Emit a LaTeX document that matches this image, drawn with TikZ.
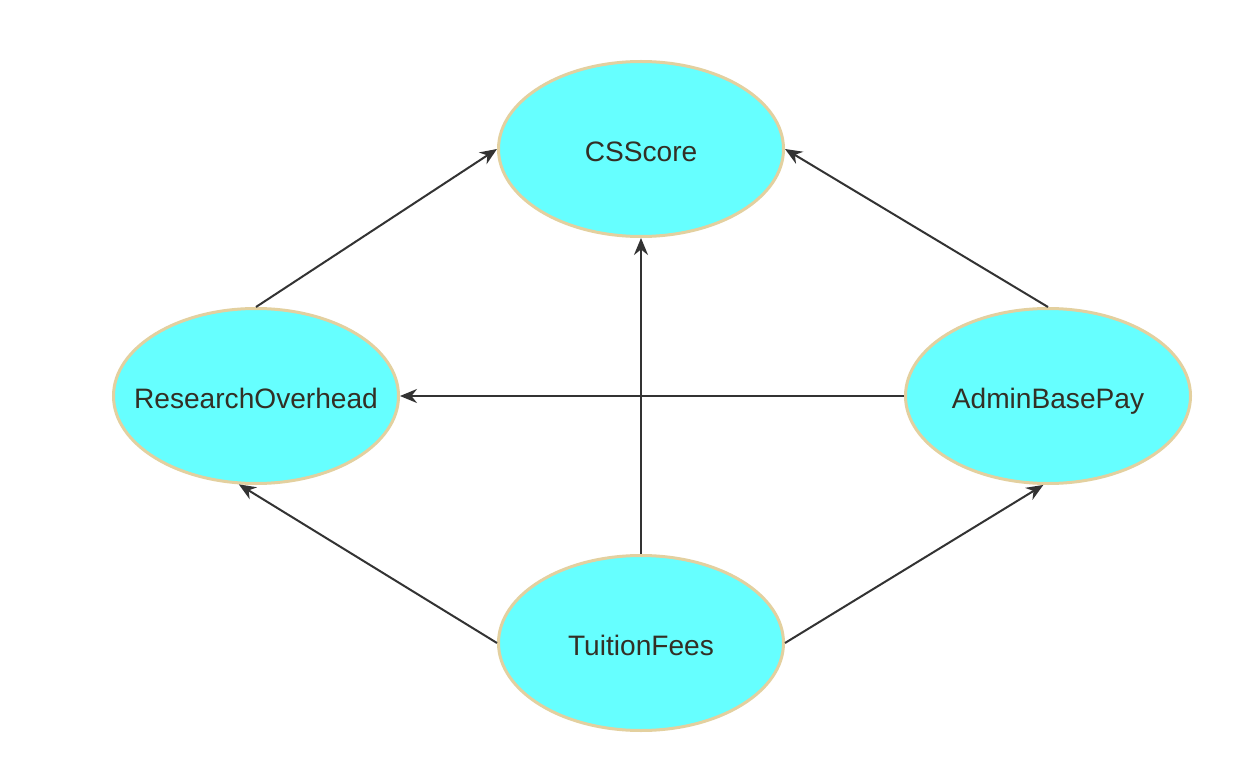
\documentclass[tikz,border=0pt]{standalone}
\usepackage{fontspec}
\setmainfont{Liberation Sans}
\usetikzlibrary{arrows.meta,shapes.geometric}
\definecolor{nodefill}{HTML}{66FFFF}
\definecolor{noderim}{HTML}{E3D09F}
\definecolor{nodetext}{HTML}{332F25}
\definecolor{edgecol}{HTML}{333333}
\tikzset{
	varnode/.style={ellipse, fill=nodefill, draw=noderim, line width=0.06cm, minimum width=5.7cm, minimum height=3.5cm, inner xsep=-0.6cm, inner ysep=0pt, text height=14.6pt, text depth=0pt, text=nodetext, font=\fontsize{16}{19}\selectfont},
	edgearrow/.style={line width=0.04cm, color=edgecol, -{Stealth[length=3.4mm, width=2.8mm]}}
}
\begin{document}
\begin{tikzpicture}
			%%%%% START %%%%%
			
			\fill[white] (0, 0) rectangle (24.82, 15.2);
			
			\node[varnode] (css) at (12.82, 12.22) {CSScore};
			\node[varnode] (research) at (5.12, 7.28) {ResearchOverhead};
			\node[varnode] (admin) at (20.96, 7.28) {AdminBasePay};
			\node[varnode] (tuition) at (12.82, 2.34) {TuitionFees};
			
			\draw[edgearrow] (research.north) -- (css.west);
			\draw[edgearrow] (admin.north) -- (css.east);
			\draw[edgearrow] (tuition.north) -- (css.south);
			\draw[edgearrow] (admin.west) -- (research.east);
			\draw[edgearrow] (tuition.west) -- (research.259);
			\draw[edgearrow] (tuition.east) -- (admin.267);
			
			%%%%% END %%%%%
\end{tikzpicture}
\end{document}
